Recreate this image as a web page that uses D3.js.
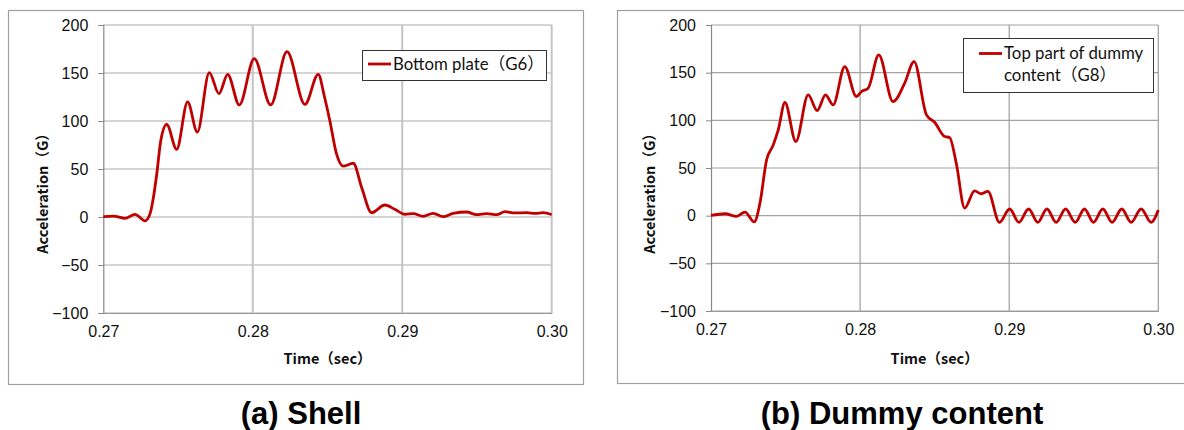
<!DOCTYPE html>
<html>
<head>
<meta charset="utf-8">
<script src="https://cdn.jsdelivr.net/npm/d3@7"></script>
<style>
  body { margin: 0; background: #fff; }
  svg { display: block; }
  .tick text { font-family: "Liberation Sans", Arial, sans-serif; font-size: 16px; fill: #111; }
  .ttl { font-family: "Noto Sans CJK JP", "Noto Sans", sans-serif; font-weight: bold; font-size: 14.5px; fill: #111; }
  .lgd { font-family: Lato, "Noto Sans CJK JP", sans-serif; font-size: 16.8px; fill: #111; }
  .cap { font-family: "Liberation Sans", Arial, sans-serif; font-weight: bold; font-size: 31px; fill: #000; }
</style>
</head>
<body>
<svg id="fig" width="1184" height="430"></svg>
<script>
// ticks shared by both panels
var yTicks = [-100, -50, 0, 50, 100, 150, 200];
var xTicks = [0.27, 0.28, 0.29, 0.30];

// (a) Shell - bottom plate G6
var shellT = [0.2700, 0.27067, 0.27145, 0.27212, 0.27279, 0.27312, 0.27335, 0.27357, 0.27385, 0.27424,
  0.27491, 0.27564, 0.27629, 0.27709, 0.27774, 0.27832, 0.2791, 0.2801, 0.2812, 0.28229,
  0.28349, 0.28438, 0.2848, 0.28516, 0.2856, 0.28605, 0.28672, 0.2873, 0.28795, 0.28884,
  0.2895, 0.29018, 0.29074, 0.2914, 0.29207, 0.29274, 0.29341, 0.29431, 0.29497, 0.29565,
  0.29631, 0.29687, 0.29754, 0.29832, 0.29888, 0.29943, 0.3000];
var shellG = [0.3, 1, -1.4, 2.8, -4, 3, 20, 44, 80, 96.5,
  70.5, 120, 88.5, 150.3, 128.5, 148.6, 116.7, 165, 116.7, 172.2,
  117.4, 148.6, 125, 100, 66, 53, 56, 30, 4.5, 12.5,
  8, 2.8, 3.5, 0.7, 3.8, 0.3, 3.8, 5.2, 2.4, 3.5,
  2.4, 5.5, 4.2, 4.5, 3.8, 4.5, 2.4];

// (b) Dummy content - top part G8
var dummyT = [0.2700, 0.27094, 0.27172, 0.27228, 0.2729, 0.27328, 0.27373, 0.27417, 0.27451, 0.27496,
  0.27569, 0.27652, 0.27712, 0.27768, 0.27819, 0.27897, 0.27975, 0.28009, 0.28054, 0.28125,
  0.28221, 0.28299, 0.28362, 0.28445, 0.285, 0.28567, 0.286, 0.28645, 0.28701, 0.28768,
  0.28813, 0.28857, 0.28935, 0.29003, 0.29065, 0.2913, 0.29192, 0.29253, 0.29315, 0.29378,
  0.29443, 0.29505, 0.29565, 0.29628, 0.2969, 0.29755, 0.29818, 0.29885, 0.29952, 0.3000];
var dummyG = [0.3, 2, -0.7, 3.8, -6.6, 13, 58.6, 74, 90, 118.7,
  77.8, 126.7, 110.3, 126.7, 116.2, 156.4, 125, 130.2, 133.7, 168.6,
  119.7, 139, 161.6, 105.8, 98, 83, 82, 55, 8, 26,
  23, 25.5, -7, 7, -7, 7, -7, 7, -7, 7,
  -7, 7, -7, 7, -7, 7, -7, 7, -7, 6];

var lineColor = "#c00000";
var svg = d3.select("#fig");

function minusFmt(d) { return d < 0 ? "\u2212" + Math.abs(d) : String(d); }

function drawPanel(cfg) {
  var g = svg.append("g");

  // outer chart frame
  g.append("rect")
    .attr("x", cfg.frame[0] + 0.5).attr("y", cfg.frame[1] + 0.5)
    .attr("width", cfg.frame[2]).attr("height", cfg.frame[3])
    .attr("fill", "none").attr("stroke", "#a0a0a0").attr("stroke-width", 1.2);

  var x = d3.scaleLinear().domain([0.27, 0.30]).range([cfg.plot[0], cfg.plot[1]]);
  var y = d3.scaleLinear().domain([-100, 200]).range([cfg.plot[3], cfg.plot[2]]);

  // horizontal grid
  g.selectAll(".hg").data(yTicks).enter().append("line")
    .attr("x1", cfg.plot[0]).attr("x2", cfg.plot[1])
    .attr("y1", function(d) { return y(d); }).attr("y2", function(d) { return y(d); })
    .attr("stroke", cfg.hGrid).attr("stroke-width", 1.2);

  // vertical grid
  g.selectAll(".vg").data(xTicks.slice(1)).enter().append("line")
    .attr("x1", function(d) { return x(d); }).attr("x2", function(d) { return x(d); })
    .attr("y1", cfg.plot[2]).attr("y2", cfg.plot[3])
    .attr("stroke", cfg.vGrid).attr("stroke-width", cfg.vWidth);

  var yAxis = g.append("g")
    .attr("transform", "translate(" + cfg.plot[0] + ",0)")
    .call(d3.axisLeft(y).tickValues(yTicks).tickSize(5).tickPadding(10).tickFormat(minusFmt));
  yAxis.select(".domain").attr("stroke", "#888").attr("stroke-width", 1.2);
  yAxis.selectAll(".tick line").attr("stroke", "#888");

  var xAxis = g.append("g")
    .attr("transform", "translate(0," + cfg.plot[3] + ")")
    .call(d3.axisBottom(x).tickValues(xTicks).tickSize(0).tickPadding(13).tickFormat(d3.format(".2f")));
  xAxis.select(".domain").attr("stroke", "#999").attr("stroke-width", 1.2);

  var line = d3.line()
    .x(function(d) { return x(d[0]); })
    .y(function(d) { return y(d[1]); })
    .curve(d3.curveMonotoneX);

  g.append("path")
    .datum(d3.zip(cfg.t, cfg.v))
    .attr("d", line)
    .attr("fill", "none")
    .attr("stroke", lineColor)
    .attr("stroke-width", 2.8)
    .attr("stroke-linejoin", "round");

  // axis titles
  g.append("text").attr("class", "ttl")
    .attr("x", (cfg.plot[0] + cfg.plot[1]) / 2).attr("y", 364)
    .attr("text-anchor", "middle").text("Time\uFF08sec\uFF09");
  g.append("text").attr("class", "ttl")
    .attr("transform", "translate(" + cfg.yTitleX + ",190) rotate(-90)")
    .attr("text-anchor", "middle").text("Acceleration\uFF08G\uFF09");

  // legend
  var lb = cfg.legend;
  g.append("rect")
    .attr("x", lb[0] + 0.5).attr("y", lb[1] + 0.5).attr("width", lb[2]).attr("height", lb[3])
    .attr("fill", "#fff").attr("stroke", "#333").attr("stroke-width", 1);
  g.append("line")
    .attr("x1", lb[0] + cfg.keyX).attr("x2", lb[0] + cfg.keyX + 23)
    .attr("y1", lb[1] + cfg.keyY).attr("y2", lb[1] + cfg.keyY)
    .attr("stroke", lineColor).attr("stroke-width", 2.8);
  cfg.legendText.forEach(function(s, i) {
    g.append("text").attr("class", "lgd")
      .attr("x", lb[0] + cfg.keyX + 25).attr("y", lb[1] + cfg.keyY + 5.5 + i * 22)
      .text(s);
  });

  // caption
  svg.append("text").attr("class", "cap")
    .attr("x", cfg.capX).attr("y", 424)
    .attr("text-anchor", "middle").text(cfg.caption);
}

drawPanel({
  t: shellT, v: shellG,
  frame: [8, 10, 575, 374],
  plot: [103.3, 551.7, 25, 313],
  hGrid: "#ababab", vGrid: "#c4c4c4", vWidth: 2,
  yTitleX: 48,
  legend: [362, 50, 184, 30],
  keyX: 6, keyY: 14,
  legendText: ["Bottom plate\uFF08G6\uFF09"],
  caption: "(a) Shell", capX: 301
});

drawPanel({
  t: dummyT, v: dummyG,
  frame: [617, 10, 580, 373],
  plot: [711, 1158.3, 25, 311],
  hGrid: "#a3a3a3", vGrid: "#9c9c9c", vWidth: 1.2,
  yTitleX: 655,
  legend: [963, 38, 190, 54],
  keyX: 16, keyY: 15.5,
  legendText: ["Top part of dummy", "content\uFF08G8\uFF09"],
  caption: "(b) Dummy content", capX: 902
});
</script>
</body>
</html>
